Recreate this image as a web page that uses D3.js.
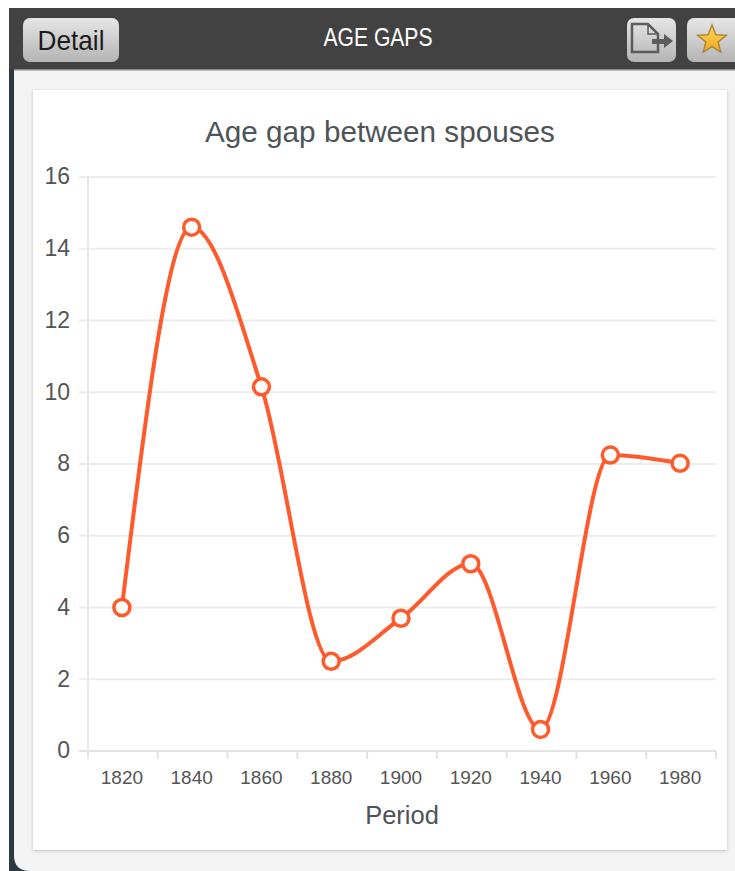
<!DOCTYPE html>
<html>
<head>
<meta charset="utf-8">
<script src="https://cdn.jsdelivr.net/npm/d3@7"></script>
<style>
  html, body { margin: 0; padding: 0; background: #fff; }
  svg { display: block; }
  text { font-family: "Liberation Sans", Arial, sans-serif; }
</style>
</head>
<body>
<div id="chart"></div>
<script>
const periods = ['1820', '1840', '1860', '1880', '1900', '1920', '1940', '1960', '1980'];
const ageGaps = [4.0, 14.6, 10.15, 2.5, 3.7, 5.22, 0.6, 8.25, 8.02];
const yTicks = [0, 2, 4, 6, 8, 10, 12, 14, 16];

const width = 735, height = 871;
const margin = { left: 88, right: 19, top: 177, bottom: 120 };
const orange = '#ff5a2b';

const svg = d3.select('#chart').append('svg')
  .attr('width', width)
  .attr('height', height);

// window chrome
svg.append('rect').attr('x', 9).attr('y', 8).attr('width', 740).attr('height', 880).attr('rx', 14).attr('fill', '#2e3a42');
svg.append('path').attr('d', 'M14 70H735V871H30Q14 871 14 855Z').attr('fill', '#f3f3f3');
svg.append('rect').attr('x', 9).attr('y', 8).attr('width', 726).attr('height', 61).attr('fill', '#424242');
svg.append('rect').attr('x', 14).attr('y', 69).attr('width', 721).attr('height', 1.5).attr('fill', '#8a8a8a');

const defs = svg.append('defs');
const btnGrad = defs.append('linearGradient').attr('id', 'btn').attr('x1', 0).attr('x2', 0).attr('y1', 0).attr('y2', 1);
btnGrad.append('stop').attr('offset', '0%').attr('stop-color', '#e6e6e6');
btnGrad.append('stop').attr('offset', '100%').attr('stop-color', '#b4b4b4');
const starGrad = defs.append('linearGradient').attr('id', 'star').attr('x1', 0).attr('x2', 0).attr('y1', 0).attr('y2', 1);
starGrad.append('stop').attr('offset', '0%').attr('stop-color', '#ffd75a');
starGrad.append('stop').attr('offset', '100%').attr('stop-color', '#f5a623');
const shadow = defs.append('filter').attr('id', 'shadow').attr('x', '-5%').attr('y', '-5%').attr('width', '110%').attr('height', '110%');
shadow.append('feDropShadow').attr('dx', 0).attr('dy', 1).attr('stdDeviation', 1.5).attr('flood-color', '#000').attr('flood-opacity', 0.22);

// header buttons
const button = (x, w) => svg.append('rect')
  .attr('x', x).attr('y', 18).attr('width', w).attr('height', 44).attr('rx', 7)
  .attr('fill', 'url(#btn)');
button(23, 96);
button(627, 49);
button(687, 60);

svg.append('text').attr('x', 71).attr('y', 50).attr('text-anchor', 'middle')
  .attr('font-size', 28).attr('fill', '#1c1c1c').attr('textLength', 67).attr('lengthAdjust', 'spacingAndGlyphs').text('Detail');
svg.append('text').attr('x', 378).attr('y', 46).attr('text-anchor', 'middle')
  .attr('font-size', 25).attr('fill', '#fff').attr('textLength', 109).attr('lengthAdjust', 'spacingAndGlyphs').text('AGE GAPS');

// export icon
const icon = svg.append('g').attr('fill', 'none').attr('stroke', '#5c5c5c').attr('stroke-width', 2.5);
icon.append('path').attr('d', 'M632 24H648L658 34V52H632Z');
icon.append('path').attr('d', 'M648 24V34H658').attr('stroke-width', 1.5);
svg.append('path').attr('d', 'M652 39H664V34L673 41L664 48V44H652Z').attr('fill', '#5c5c5c');

// favourite star
const starPoints = d3.range(10).map(i => {
  const r = i % 2 ? 6.5 : 15;
  const a = -Math.PI / 2 + i * Math.PI / 5;
  return [712 + r * Math.cos(a), 40 + r * Math.sin(a)];
});
svg.append('polygon').attr('points', starPoints.join(' '))
  .attr('fill', 'url(#star)').attr('stroke', '#a98a3a').attr('stroke-width', 1.5);

// card
svg.append('rect').attr('x', 33).attr('y', 90).attr('width', 694).attr('height', 760)
  .attr('fill', '#fff').attr('filter', 'url(#shadow)');

// scales
const x = d3.scaleBand().domain(periods).range([margin.left, width - margin.right]);
const y = d3.scaleLinear().domain([0, 16]).range([height - margin.bottom, margin.top]);

// gridlines
svg.append('g').selectAll('line').data(yTicks).join('line')
  .attr('x1', margin.left - 9)
  .attr('x2', width - margin.right)
  .attr('y1', d => y(d))
  .attr('y2', d => y(d))
  .attr('stroke', d => d === 0 ? '#e2e2e2' : '#ececec')
  .attr('stroke-width', 2);

svg.append('line').attr('x1', margin.left).attr('x2', margin.left)
  .attr('y1', margin.top).attr('y2', y(0) + 8)
  .attr('stroke', '#e8e8e8').attr('stroke-width', 2);

// y axis
const yAxis = svg.append('g')
  .attr('transform', `translate(${margin.left},0)`)
  .call(d3.axisLeft(y).tickValues(yTicks).tickSize(0).tickPadding(18));
yAxis.select('.domain').remove();
yAxis.selectAll('text').attr('font-size', 23).attr('fill', '#555').attr('dy', '0.3em').style('font-family', '"Liberation Sans", Arial, sans-serif');

// x axis
const xAxis = svg.append('g')
  .attr('transform', `translate(-1,${y(0)})`)
  .call(d3.axisBottom(x).tickSize(0).tickPadding(20));
xAxis.select('.domain').remove();
xAxis.selectAll('text').attr('font-size', 19).attr('fill', '#555').style('font-family', '"Liberation Sans", Arial, sans-serif');
svg.append('g').selectAll('line').data(periods.slice(1).concat('end')).join('line')
  .attr('x1', d => d === 'end' ? x.range()[1] : x(d))
  .attr('x2', d => d === 'end' ? x.range()[1] : x(d))
  .attr('y1', y(0))
  .attr('y2', y(0) + 8)
  .attr('stroke', '#e2e2e2')
  .attr('stroke-width', 2);

// titles
svg.append('text').attr('x', 380).attr('y', 142).attr('text-anchor', 'middle')
  .attr('font-size', 29.7).attr('fill', '#4d5357').text('Age gap between spouses');
svg.append('text').attr('x', 402).attr('y', 824).attr('text-anchor', 'middle')
  .attr('font-size', 25.5).attr('fill', '#4d5357').text('Period');

// series
const cx = (d, i) => x(periods[i]) + x.bandwidth() / 2 - 1;
const line = d3.line()
  .x(cx)
  .y(d => y(d))
  .curve(d3.curveMonotoneX);

svg.append('path')
  .attr('d', line(ageGaps))
  .attr('fill', 'none')
  .attr('stroke', orange)
  .attr('stroke-width', 4);

svg.append('g').selectAll('circle').data(ageGaps).join('circle')
  .attr('cx', cx)
  .attr('cy', d => y(d))
  .attr('r', 8)
  .attr('fill', '#fff')
  .attr('stroke', orange)
  .attr('stroke-width', 3.5);
</script>
</body>
</html>
